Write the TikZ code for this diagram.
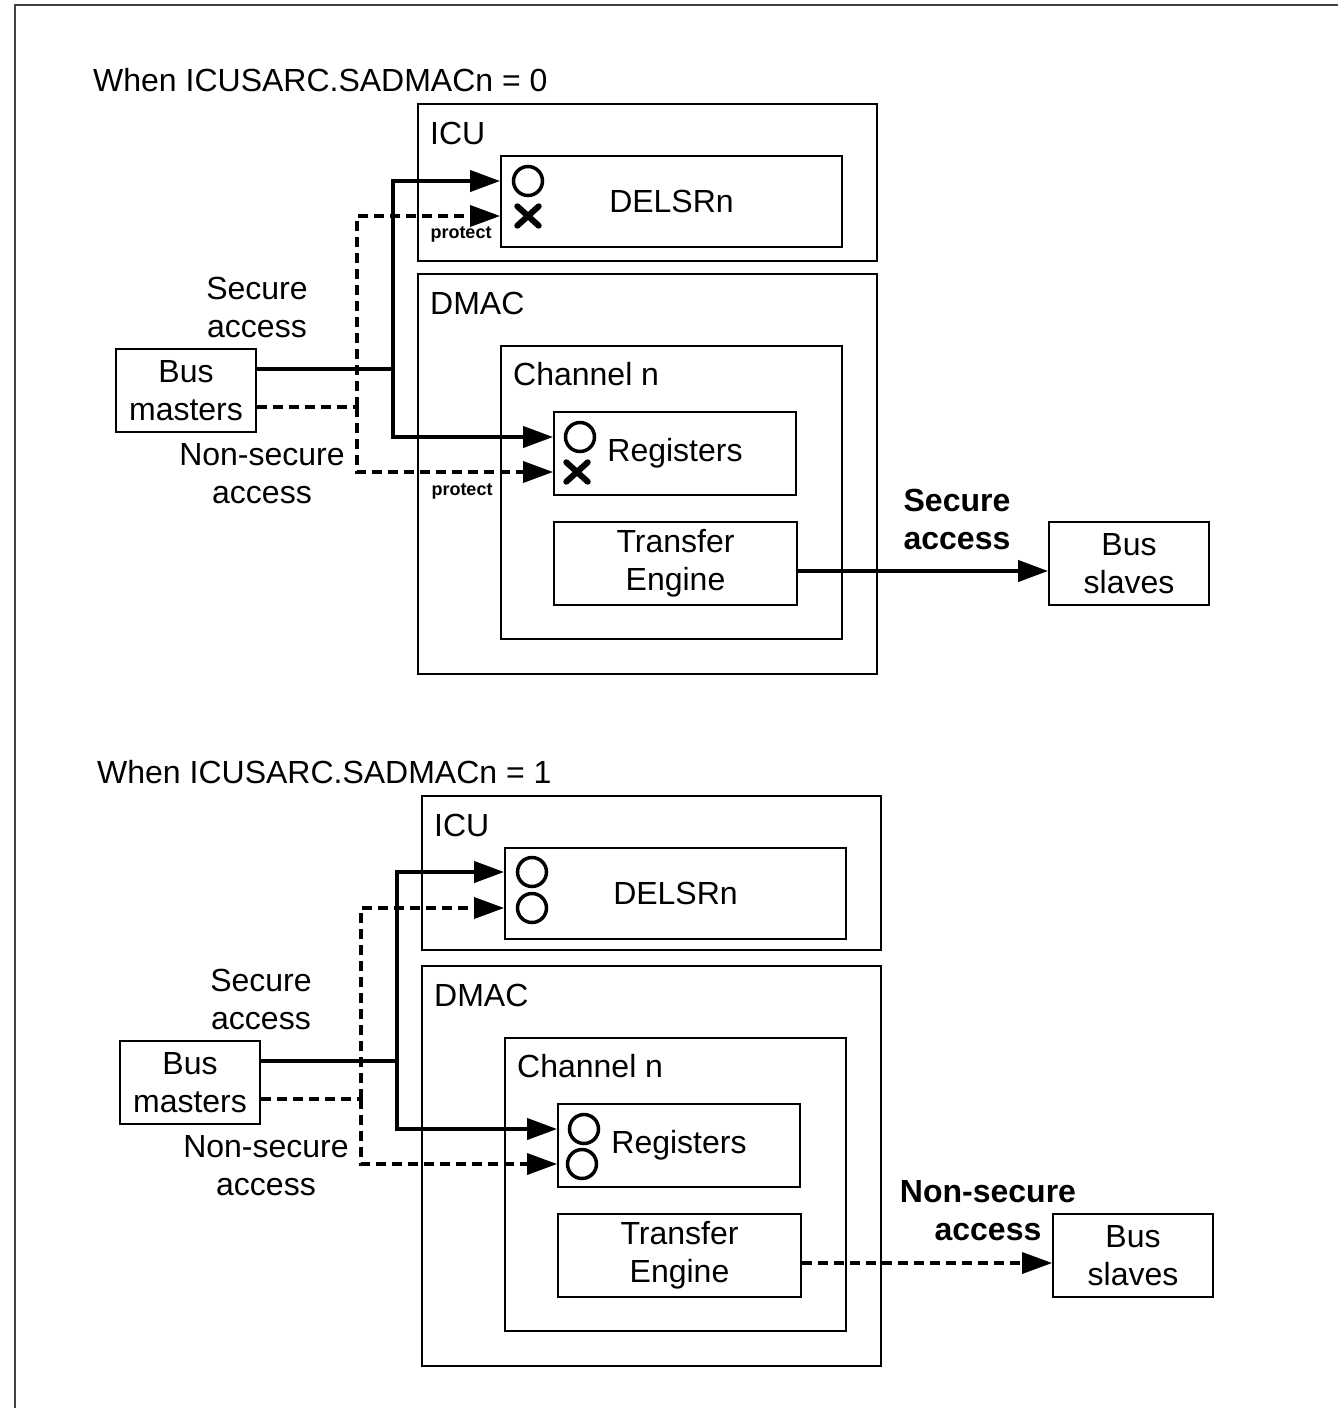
\documentclass[tikz,border=0pt]{standalone}
\usepackage{fontspec}
\setmainfont{Liberation Sans}
\usetikzlibrary{arrows.meta,positioning}

\tikzset{
  box/.style={draw, line width=1.8pt, inner sep=0pt, align=center},
  txt/.style={inner sep=0pt, align=center},
  sec/.style={line width=4pt},
  nsec/.style={line width=3.5pt, dash pattern=on 10pt off 6pt},
  tip/.style={-{Triangle[length=30pt,width=21pt]}},
  okmark/.style={circle, draw, line width=3.5pt, minimum size=29pt, inner sep=0pt},
  ngmark/.style={inner sep=0pt, minimum width=21pt, minimum height=19pt},
  cross/.style={line width=6pt, line cap=round},
  frame/.style={draw=black!75, line width=2pt}
}

\begin{document}
\begin{tikzpicture}[x=1pt, y=-1pt, font=\fontsize{32}{38}\selectfont]
  \useasboundingbox (0,0) rectangle (1338,1408);
  \draw[frame] (15,1420) -- (15,5) -- (1350,5);

  % Upper panel: SADMACn = 0
  \node[txt, anchor=west] (titleA) at (93,80) {When ICUSARC.SADMACn = 0};
  \node[box, minimum width=459pt, minimum height=157pt] (icuA) at (647.5,182.5) {};
  \node[txt, anchor=west] (icuAlbl) at (430,133) {ICU};
  \node[box, minimum width=341pt, minimum height=91pt] (delsrA) at (671.5,201.5) {DELSRn};
  \node[box, minimum width=459pt, minimum height=400pt] (dmacA) at (647.5,474) {};
  \node[txt, anchor=west] (dmacAlbl) at (430,303) {DMAC};
  \node[box, minimum width=341pt, minimum height=293pt] (chA) at (671.5,492.5) {};
  \node[txt, anchor=west] (chAlbl) at (513,374) {Channel n};
  \node[box, minimum width=242pt, minimum height=83pt] (regA) at (675,453.5) {Registers};
  \node[box, minimum width=243pt, minimum height=83pt] (teA) at (675.5,563.5) {Transfer\\Engine};
  \node[box, minimum width=160pt, minimum height=83pt] (bsA) at (1129,563.5) {Bus\\slaves};
  \node[box, minimum width=140pt, minimum height=83pt] (bmA) at (186,390.5) {Bus\\masters};
  % access marks
  \node[okmark] (okA1) at (528,181) {};
  \node[ngmark] (ngA1) at (528,216) {};
  \draw[cross] (ngA1.north west) -- (ngA1.south east) (ngA1.north east) -- (ngA1.south west);
  \node[okmark] (okA2) at (580,437) {};
  \node[ngmark] (ngA2) at (577,472) {};
  \draw[cross] (ngA2.north west) -- (ngA2.south east) (ngA2.north east) -- (ngA2.south west);
  % labels
  \node[txt] (secA) at (257,307) {Secure\\access};
  \node[txt] (nsecA) at (262,474) {Non-secure\\access};
  \node[txt, font=\fontsize{18}{20}\bfseries] (protA1) at (461,234) {protect};
  \node[txt, font=\fontsize{18}{20}\bfseries] (protA2) at (462,491) {protect};
  \node[txt, font=\fontsize{32}{38}\bfseries] (outA) at (957,519) {Secure\\access};
  % connectors
  \coordinate (sjA) at (393,369);
  \coordinate (njA) at (357,407);
  \draw[sec] (bmA.east |- sjA) -- (sjA);
  \draw[sec,tip] (sjA) |- (delsrA.west |- okA1);
  \draw[sec,tip] (sjA) |- (regA.west |- okA2);
  \draw[nsec] (bmA.east |- njA) -- (njA);
  \draw[nsec,tip] (njA) |- (delsrA.west |- ngA1);
  \draw[nsec,tip] (njA) |- (regA.west |- ngA2);
  \draw[sec,tip] ([yshift=-7.5pt]teA.east) -- ([yshift=-7.5pt]bsA.west);

  % Lower panel: SADMACn = 1
  \begin{scope}[shift={(4,692)}]
    \node[txt, anchor=west] (titleB) at (93,80) {When ICUSARC.SADMACn = 1};
    \node[box, minimum width=459pt, minimum height=154pt] (icuB) at (647.5,181) {};
    \node[txt, anchor=west] (icuBlbl) at (430,133) {ICU};
    \node[box, minimum width=341pt, minimum height=91pt] (delsrB) at (671.5,201.5) {DELSRn};
    \node[box, minimum width=459pt, minimum height=400pt] (dmacB) at (647.5,474) {};
    \node[txt, anchor=west] (dmacBlbl) at (430,303) {DMAC};
    \node[box, minimum width=341pt, minimum height=293pt] (chB) at (671.5,492.5) {};
    \node[txt, anchor=west] (chBlbl) at (513,374) {Channel n};
    \node[box, minimum width=242pt, minimum height=83pt] (regB) at (675,453.5) {Registers};
    \node[box, minimum width=243pt, minimum height=83pt] (teB) at (675.5,563.5) {Transfer\\Engine};
    \node[box, minimum width=160pt, minimum height=83pt] (bsB) at (1129,563.5) {Bus\\slaves};
    \node[box, minimum width=140pt, minimum height=83pt] (bmB) at (186,390.5) {Bus\\masters};
    % access marks
    \node[okmark] (okB1) at (528,180) {};
    \node[okmark] (okB2) at (528,216) {};
    \node[okmark] (okB3) at (580,437) {};
    \node[okmark] (okB4) at (578,472) {};
    % labels
    \node[txt] (secB) at (257,307) {Secure\\access};
    \node[txt] (nsecB) at (262,474) {Non-secure\\access};
    \node[txt, font=\fontsize{32}{38}\bfseries] (outB) at (984,519) {Non-secure\\access};
    % connectors
    \coordinate (sjB) at (393,369);
    \coordinate (njB) at (357,407);
    \draw[sec] (bmB.east |- sjB) -- (sjB);
    \draw[sec,tip] (sjB) |- (delsrB.west |- okB1);
    \draw[sec,tip] (sjB) |- (regB.west |- okB3);
    \draw[nsec] (bmB.east |- njB) -- (njB);
    \draw[nsec,tip] (njB) |- (delsrB.west |- okB2);
    \draw[nsec,tip] (njB) |- (regB.west |- okB4);
    \draw[nsec,tip] ([yshift=-7.5pt]teB.east) -- ([yshift=-7.5pt]bsB.west);
  \end{scope}
\end{tikzpicture}
\end{document}
